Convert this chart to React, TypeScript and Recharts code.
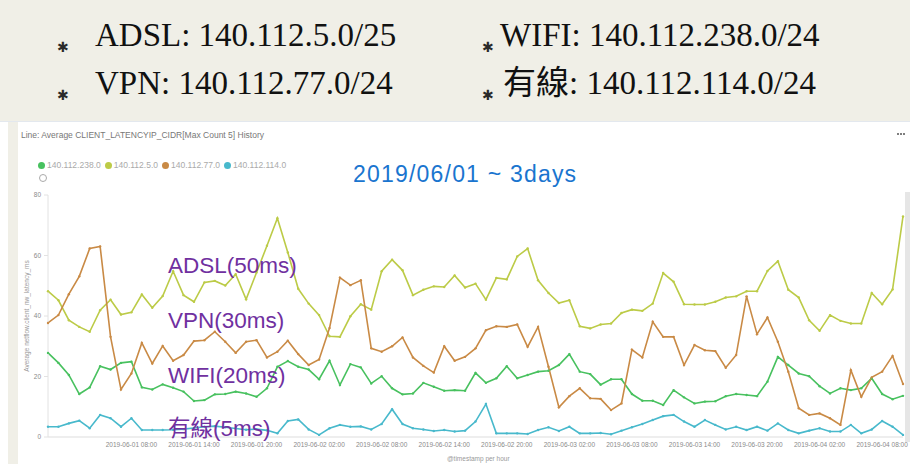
import React from 'react';
import { LineChart, Line, XAxis, YAxis } from 'recharts';

// hourly buckets, 2019-06-01 00:00 .. 2019-06-04 10:00
const days = ['2019-06-01', '2019-06-02', '2019-06-03', '2019-06-04'];
const timestamps = Array.from({ length: 83 }, (_, i) =>
  `${days[Math.floor(i / 24)]} ${String(i % 24).padStart(2, '0')}:00`);

const tickLabels = [
  '2019-06-01 08:00', '2019-06-01 14:00', '2019-06-01 20:00',
  '2019-06-02 02:00', '2019-06-02 08:00', '2019-06-02 14:00', '2019-06-02 20:00',
  '2019-06-03 02:00', '2019-06-03 08:00', '2019-06-03 14:00', '2019-06-03 20:00',
  '2019-06-04 02:00', '2019-06-04 08:00',
];
const yTicks = [0, 20, 40, 60, 80];

// 140.112.238.0 (WIFI)
const wifi = [
  27.8, 24.5, 20.5, 14.2, 16.4, 23.4, 22.3, 24.5, 24.9, 16.4,
  15.7, 17.4, 16.3, 15.0, 11.9, 12.2, 14.1, 14.2, 15.0, 14.4,
  13.3, 16.1, 23.2, 25.1, 23.2, 22.3, 19.1, 25.2, 17.2, 24.1,
  23.0, 17.7, 20.1, 16.1, 14.1, 14.4, 17.9, 16.6, 15.3, 15.5,
  15.3, 21.2, 17.9, 19.4, 23.4, 19.4, 20.5, 21.6, 21.9, 23.8,
  27.4, 21.6, 20.8, 17.3, 19.1, 19.1, 14.2, 12.0, 12.0, 10.6,
  15.5, 13.1, 11.1, 11.7, 11.8, 13.5, 14.2, 13.9, 13.5, 18.3,
  26.5, 23.8, 21.0, 20.1, 16.8, 14.4, 16.1, 15.5, 16.1, 19.4,
  14.2, 12.5, 13.6,
];
// 140.112.5.0 (ADSL)
const adsl = [
  48.2, 45.2, 38.6, 36.4, 34.8, 41.9, 45.4, 40.5, 41.2, 47.1,
  42.7, 46.6, 54.8, 46.9, 44.7, 51.1, 51.6, 50.1, 53.8, 45.5,
  54.4, 63.2, 72.3, 61.0, 49.0, 44.1, 40.3, 33.3, 33.1, 39.9,
  43.9, 42.1, 54.8, 58.6, 55.1, 46.9, 48.7, 49.8, 49.6, 53.4,
  49.4, 50.7, 45.4, 52.6, 52.1, 59.7, 62.3, 51.8, 47.6, 44.3,
  45.2, 36.6, 35.9, 37.2, 37.5, 41.0, 42.1, 41.7, 44.1, 54.2,
  51.3, 43.9, 43.8, 43.8, 44.7, 46.1, 46.5, 48.2, 48.2, 54.9,
  58.1, 48.7, 46.1, 38.6, 35.1, 40.3, 38.4, 37.5, 37.5, 47.6,
  43.9, 48.8, 72.9,
];
// 140.112.77.0 (VPN)
const vpn = [
  37.7, 40.3, 47.2, 53.1, 62.3, 63.0, 33.1, 15.7, 21.0, 31.1,
  24.3, 30.1, 25.2, 27.1, 31.7, 32.0, 34.8, 31.5, 27.8, 31.5,
  32.0, 26.3, 28.2, 31.8, 27.4, 23.8, 25.6, 36.0, 52.7, 50.2,
  51.8, 29.3, 28.2, 30.0, 32.9, 26.3, 23.5, 21.3, 30.0, 25.2,
  26.5, 29.3, 35.3, 36.6, 36.4, 37.2, 29.8, 36.4, 23.2, 9.8,
  13.5, 16.1, 12.8, 12.6, 8.9, 11.1, 28.9, 26.3, 38.1, 33.1,
  33.1, 23.8, 30.4, 28.7, 28.4, 22.9, 27.1, 46.5, 34.0, 39.5,
  31.5, 21.6, 9.5, 7.3, 7.8, 6.2, 4.0, 22.1, 13.3, 19.7,
  21.6, 26.8, 17.5,
];
// 140.112.114.0 (有線)
const wired = [
  3.4, 3.4, 4.5, 5.4, 2.9, 7.3, 6.2, 3.4, 6.2, 2.3,
  2.3, 2.3, 2.4, 2.6, 3.0, 3.4, 3.6, 3.2, 2.8, 2.4,
  2.6, 2.2, 1.2, 5.3, 5.8, 2.5, 0.7, 2.9, 4.0, 3.4,
  3.5, 2.5, 4.3, 9.2, 4.3, 2.9, 2.5, 2.0, 2.3, 1.8,
  2.1, 5.1, 10.9, 1.2, 1.2, 1.2, 1.0, 2.3, 3.2, 2.0,
  3.4, 1.2, 1.2, 1.3, 0.9, 2.1, 3.2, 4.3, 5.6, 6.9,
  7.3, 5.1, 3.4, 5.6, 4.0, 2.5, 3.4, 2.3, 3.4, 2.1,
  4.5, 2.3, 1.2, 2.1, 2.9, 1.8, 1.8, 4.0, 1.2, 2.5,
  5.3, 3.4, 0.7,
];

const series = [
  { key: 'wifi', name: '140.112.238.0', color: '#48c15f' },
  { key: 'adsl', name: '140.112.5.0', color: '#bccb47' },
  { key: 'vpn', name: '140.112.77.0', color: '#c98a45' },
  { key: 'wired', name: '140.112.114.0', color: '#48b9cc' },
];

const data = timestamps.map((t, i) => ({
  t, wifi: wifi[i], adsl: adsl[i], vpn: vpn[i], wired: wired[i],
}));

const headerItems = [
  { label: 'ADSL:', ip: '140.112.5.0/25', left: 95, top: 19, bullet: 57 },
  { label: 'VPN:', ip: '140.112.77.0/24', left: 95, top: 67, bullet: 57 },
  { label: 'WIFI:', ip: '140.112.238.0/24', left: 500, top: 19, bullet: 482 },
  { label: '有線:', ip: '140.112.114.0/24', left: 503, top: 67, bullet: 482 },
];

const notes = [
  { text: 'ADSL(50ms)', top: 255 },
  { text: 'VPN(30ms)', top: 310 },
  { text: 'WIFI(20ms)', top: 365 },
  { text: '有線(5ms)', top: 418 },
];

const beige = '#f0efe7';
const tickStyle = { fontSize: 6.5, fill: '#8a8a8a', fontFamily: '"Liberation Sans", Arial, sans-serif' };

export default function App() {
  return (
    <div style={{
      position: 'absolute', left: 0, top: 0, width: 910, height: 464,
      background: '#fff', overflow: 'hidden',
      fontFamily: '"Liberation Sans", Arial, sans-serif',
    }}>
      <div style={{ position: 'absolute', left: 0, top: 0, width: 910, height: 121, background: beige }} />
      <div style={{ position: 'absolute', left: 0, top: 121, width: 910, height: 1, background: '#e3e8ee' }} />
      <div style={{ position: 'absolute', left: 8, top: 122, width: 10, height: 342, background: beige }} />
      <div style={{ position: 'absolute', left: 905, top: 192, width: 5, height: 250, background: '#e6e6e6' }} />

      {headerItems.map((h) => (
        <React.Fragment key={h.label}>
          <div style={{ position: 'absolute', left: h.bullet, top: h.top + 21, fontSize: 14, fontWeight: 'bold', lineHeight: 1, color: '#2a2a2a', fontFamily: '"DejaVu Sans"' }}>✱</div>
          <div style={{
            position: 'absolute', left: h.left, top: h.top, whiteSpace: 'nowrap', lineHeight: 1,
            fontSize: 33, color: '#111', fontFamily: '"Liberation Serif", "Noto Sans CJK TC", serif',
          }}>
            {h.label} {h.ip}
          </div>
        </React.Fragment>
      ))}

      <div style={{ position: 'absolute', left: 21, top: 130, fontSize: 8.5, color: '#777', whiteSpace: 'nowrap' }}>
        Line: Average CLIENT_LATENCYIP_CIDR[Max Count 5] History
      </div>
      <div style={{ position: 'absolute', left: 897, top: 133, display: 'flex', gap: 1 }}>
        {[0, 1, 2].map((k) => (
          <span key={k} style={{ width: 2, height: 2, borderRadius: 1, background: '#555', display: 'inline-block' }} />
        ))}
      </div>

      <div style={{ position: 'absolute', left: 38, top: 160, display: 'flex', alignItems: 'center', gap: 4 }}>
        {series.map((s) => (
          <div key={s.key} style={{ display: 'flex', alignItems: 'center', fontSize: 8.5, color: '#aaa' }}>
            <span style={{ width: 7, height: 7, borderRadius: 4, background: s.color, marginRight: 2, display: 'inline-block' }} />
            {s.name}
          </div>
        ))}
      </div>
      <div style={{ position: 'absolute', left: 39, top: 174, width: 6, height: 6, borderRadius: 4, border: '1px solid #aaa' }} />

      <div style={{ position: 'absolute', left: 353, top: 161, fontSize: 23, letterSpacing: 1.2, color: '#1a75cf', whiteSpace: 'nowrap' }}>
        2019/06/01 ~ 3days
      </div>

      <div style={{ position: 'absolute', left: 0, top: 0 }}>
        <LineChart width={910} height={464} data={data}
          margin={{ top: 195, right: 7, bottom: 7, left: 18 }}>
          <XAxis dataKey="t" ticks={tickLabels} interval={0} tick={tickStyle} height={20}
            tickLine={false} tickSize={3} tickMargin={2} stroke="#dddddd" />
          <YAxis domain={[0, 80]} ticks={yTicks} width={30} tick={tickStyle}
            tickSize={4} tickMargin={3} stroke="#e2e2e2" />
          {series.map((s) => (
            <Line key={s.key} dataKey={s.key} name={s.name} stroke={s.color} strokeWidth={1.6}
              dot={{ r: 1.2, fill: s.color, stroke: 'none' }} isAnimationActive={false} />
          ))}
        </LineChart>
      </div>

      <div style={{
        position: 'absolute', left: 26, top: 316, transform: 'translate(-50%, -50%) rotate(-90deg)',
        fontSize: 6.5, color: '#999', whiteSpace: 'nowrap',
      }}>
        Average netflow.client_nw_latency_ms
      </div>
      <div style={{ position: 'absolute', left: 447, top: 455, fontSize: 6.5, color: '#999', whiteSpace: 'nowrap' }}>
        @timestamp per hour
      </div>

      {notes.map((n) => (
        <div key={n.text} style={{
          position: 'absolute', left: 168, top: n.top, fontSize: 22.5, lineHeight: 1,
          color: '#7030a0', whiteSpace: 'nowrap',
          fontFamily: '"Liberation Sans", "Noto Sans CJK TC", sans-serif',
        }}>
          {n.text}
        </div>
      ))}
    </div>
  );
}
